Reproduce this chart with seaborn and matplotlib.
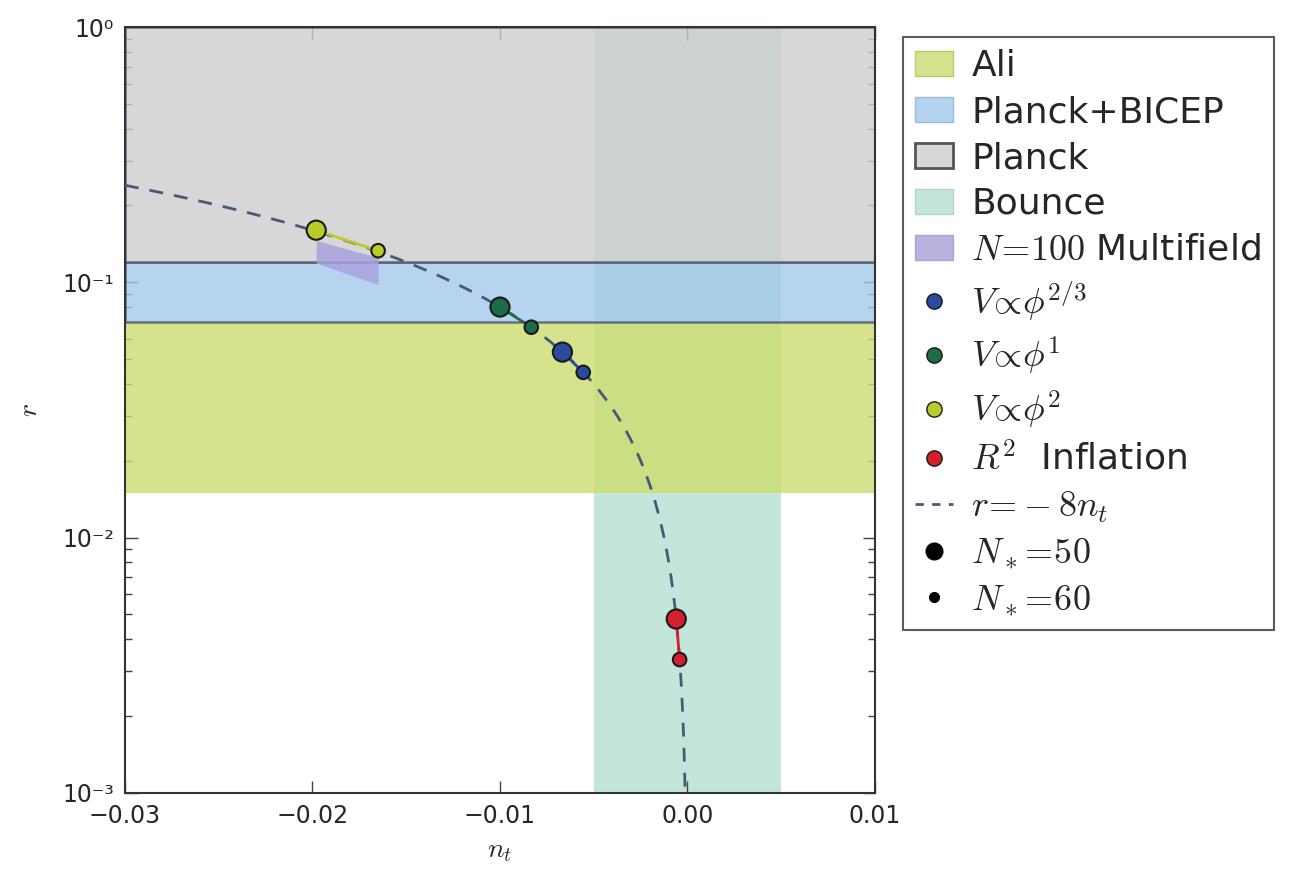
import numpy as np
import pandas as pd
import seaborn as sns
import matplotlib.pyplot as plt
from matplotlib.patches import Patch
from matplotlib.lines import Line2D

# data
ali_band = (0.015, 0.07)
planck_bicep_band = (0.07, 0.12)
planck_band = (0.12, 1.0)
bounce_band = (-0.005, 0.005)

models = ['phi23', 'phi1', 'phi2', 'R2']
nt_50 = [-0.00667, -0.0100, -0.0198, -0.00060]
r_50 = [0.0533, 0.080, 0.160, 0.0048]
nt_60 = [-0.00556, -0.00833, -0.0165, -0.00042]
r_60 = [0.0444, 0.0667, 0.133, 0.00333]

multi_nt = [-0.0198, -0.0165]
multi_upper = [0.146, 0.125]
multi_lower = [0.119, 0.098]

colors = {'phi23': '#2a4aa0', 'phi1': '#1e6b48', 'phi2': '#bccb2c', 'R2': '#d41f2c'}
labels = {'phi23': r'$V\!\propto\!\phi^{2/3}$', 'phi1': r'$V\!\propto\!\phi^{1}$',
          'phi2': r'$V\!\propto\!\phi^{2}$', 'R2': r'$R^2$  Inflation'}

sns.set_style('white')
plt.rcParams['mathtext.fontset'] = 'cm'
plt.rcParams['font.family'] = ['DejaVu Sans']

fig = plt.figure(figsize=(12.99, 8.71), dpi=100)
ax = fig.add_axes([0.0962, 0.0896, 0.5774, 0.8794])

# shaded regions
ax.axvspan(*bounce_band, color='#c4e6da', lw=0, zorder=0)
ax.axhspan(*ali_band, color='#ccdd6f', alpha=0.8, lw=0, zorder=1)
ax.axhspan(*planck_bicep_band, facecolor='#a4c9ec', alpha=0.8, edgecolor='#4c5a70', lw=1.8, zorder=1)
ax.axhspan(*planck_band, facecolor='#cecece', alpha=0.8, edgecolor='#4c5a70', lw=1.8, zorder=1)
ax.fill_between(multi_nt, multi_lower, multi_upper, color='#a8a2de', alpha=0.85, lw=0, zorder=2)

# r = -8 n_t
nt_line = np.linspace(-0.03, -1e-5, 2000)
df_line = pd.DataFrame({'nt': nt_line, 'r': -8 * nt_line})
sns.lineplot(data=df_line, x='nt', y='r', ax=ax, color='#4a5878', lw=2,
             zorder=3, estimator=None, sort=False)
ax.lines[-1].set_linestyle((0, (5, 4)))

# model points
rows = []
for i, m in enumerate(models):
    ax.plot([nt_50[i], nt_60[i]], [r_50[i], r_60[i]], color=colors[m], lw=2, zorder=4)
    rows.append({'model': m, 'nt': nt_50[i], 'r': r_50[i], 'N': 50})
    rows.append({'model': m, 'nt': nt_60[i], 'r': r_60[i], 'N': 60})
pts = pd.DataFrame(rows)
sns.scatterplot(data=pts, x='nt', y='r', hue='model', palette=colors, size='N',
                sizes={50: 190, 60: 95}, edgecolor='#1a1a1a', linewidth=1.5,
                ax=ax, zorder=5, legend=False)

ax.set_yscale('log')
ax.set_xlim(-0.03, 0.01)
ax.set_ylim(1e-3, 1)
ax.set_xticks([-0.03, -0.02, -0.01, 0.0, 0.01])
ax.set_xticklabels(['\u22120.03', '\u22120.02', '\u22120.01', '0.00', '0.01'])
ax.set_yticks([1e-3, 1e-2, 1e-1, 1])
ax.set_yticklabels(['10\u207b\u00b3', '10\u207b\u00b2', '10\u207b\u00b9', '10\u2070'])
ax.tick_params(which='both', direction='in', top=True, right=True, left=True, bottom=True,
               labelsize=17, pad=8, color='#444444')
ax.tick_params(which='major', length=9, width=1)
ax.tick_params(which='minor', length=5, width=1)
for s in ax.spines.values():
    s.set_color('#333333')
    s.set_linewidth(1.5)
ax.set_xlabel(r'$n_t$', fontsize=20, labelpad=6)
ax.set_ylabel(r'$r$', fontsize=20, labelpad=14)

handles = [
    Patch(facecolor='#d4e48c', edgecolor='#b8c870', label='Ali'),
    Patch(facecolor='#b4d3ef', edgecolor='#9cbcdc', label='Planck+BICEP'),
    Patch(facecolor='#d8d8d8', edgecolor='#555555', lw=2, label='Planck'),
    Patch(facecolor='#c4e6da', edgecolor='#b0d6c8', label='Bounce'),
    Patch(facecolor='#b7b3dd', edgecolor='#a8a4d0', label=r'$N\!=\!100$ Multifield'),
]
for m in models:
    handles.append(Line2D([], [], ls='none', marker='o', ms=11, color=colors[m],
                          mec='#1a1a1a', label=labels[m]))
handles.append(Line2D([], [], ls=(0, (3, 3)), lw=2, color='#4a5878', label=r'$r\!=\!-8n_t$'))
handles.append(Line2D([], [], ls='none', marker='o', ms=12, color='black', label=r'$N_*\!=\!50$'))
handles.append(Line2D([], [], ls='none', marker='o', ms=7, color='black', label=r'$N_*\!=\!60$'))

leg = fig.legend(handles=handles, loc='upper left', bbox_to_anchor=(0.695, 0.958),
                 fontsize=26, frameon=True, fancybox=False, labelspacing=0.33,
                 handlelength=1.05, handletextpad=0.5, borderpad=0.35, borderaxespad=0)
leg.get_frame().set_edgecolor('#333333')
leg.get_frame().set_linewidth(1.5)

fig.savefig('out.png', dpi=100)
